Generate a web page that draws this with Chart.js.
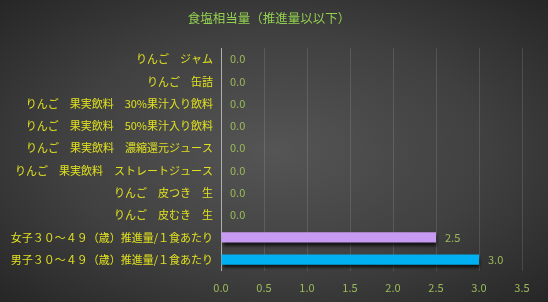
<!DOCTYPE html>
<html>
<head>
<meta charset="utf-8">
<script src="https://cdn.jsdelivr.net/npm/chart.js@4"></script>
<style>
  html, body { margin: 0; padding: 0; }
  body {
    width: 548px; height: 302px; overflow: hidden;
    background: radial-gradient(ellipse at 50% 50%, #555555 0%, #404040 55%, #262626 100%);
  }
  #wrap { position: relative; width: 548px; height: 302px; }
</style>
</head>
<body>
<div id="wrap"><canvas id="chart"></canvas></div>
<script>
// データ
const categories = [
    'りんご　ジャム',
    'りんご　缶詰',
    'りんご　果実飲料　30%果汁入り飲料',
    'りんご　果実飲料　50%果汁入り飲料',
    'りんご　果実飲料　濃縮還元ジュース',
    'りんご　果実飲料　ストレートジュース',
    'りんご　皮つき　生',
    'りんご　皮むき　生',
    '女子３０～４９（歳）推進量/１食あたり',
    '男子３０～４９（歳）推進量/１食あたり'
];
const saltValues = [0, 0, 0, 0, 0, 0, 0, 0, 2.5, 3.0];
const barColors = ['#c89bf2', '#c89bf2', '#c89bf2', '#c89bf2', '#c89bf2', '#c89bf2', '#c89bf2', '#c89bf2', '#c89bf2', '#00b0f0'];
const xTicks = [0, 0.5, 1, 1.5, 2, 2.5, 3, 3.5];
const chartTitle = '食塩相当量（推進量以以下）';

const FONT = '"Noto Sans CJK JP", "Noto Sans", sans-serif';
const GREEN = '#9bbb59';

// 棒の影
const shadowPlugin = {
    id: 'barShadow',
    beforeDatasetDraw(chart) {
        const ctx = chart.ctx;
        ctx.save();
        ctx.shadowColor = 'rgba(0,0,0,0.7)';
        ctx.shadowOffsetX = 1;
        ctx.shadowOffsetY = 3;
        ctx.shadowBlur = 3;
    },
    afterDatasetDraw(chart) {
        chart.ctx.restore();
    }
};

// タイトル（キャンバス全体の中央寄り）
const titlePlugin = {
    id: 'centerTitle',
    afterDraw(chart) {
        const ctx = chart.ctx;
        ctx.save();
        ctx.font = '12.5px ' + FONT;
        ctx.fillStyle = '#92d050';
        ctx.textAlign = 'center';
        ctx.textBaseline = 'middle';
        ctx.fillText(chartTitle, 269, 18);
        ctx.restore();
    }
};

// 値ラベル
const valueLabels = {
    id: 'valueLabels',
    afterDatasetsDraw(chart) {
        const ctx = chart.ctx;
        const meta = chart.getDatasetMeta(0);
        ctx.save();
        ctx.font = '11px ' + FONT;
        ctx.fillStyle = GREEN;
        ctx.textAlign = 'left';
        ctx.textBaseline = 'middle';
        meta.data.forEach((bar, i) => {
            ctx.fillText(saltValues[i].toFixed(1), bar.x + 9, bar.y);
        });
        ctx.restore();
    }
};

new Chart(document.getElementById('chart'), {
    type: 'bar',
    data: {
        labels: categories,
        datasets: [{
            data: saltValues,
            backgroundColor: barColors,
            borderWidth: 0,
            barPercentage: 0.46,
            categoryPercentage: 1.0
        }]
    },
    options: {
        indexAxis: 'y',
        responsive: true,
        maintainAspectRatio: false,
        animation: false,
        layout: { padding: { left: 0, right: 26, top: 48, bottom: -2 } },
        plugins: {
            legend: { display: false },
            tooltip: { enabled: false },
            title: { display: false }
        },
        scales: {
            x: {
                min: 0,
                max: 3.5,
                afterBuildTicks(scale) { scale.ticks = xTicks.map(v => ({ value: v })); },
                grid: { color: 'rgba(255,255,255,0.12)', drawTicks: false },
                border: { display: false },
                ticks: {
                    color: GREEN,
                    font: { family: FONT, size: 11 },
                    padding: 10,
                    callback: v => Number(v).toFixed(1)
                }
            },
            y: {
                afterFit(scale) { scale.width = 221; },
                grid: { display: false, drawTicks: false },
                border: { display: true, color: '#b0b0b0', width: 1 },
                ticks: {
                    color: '#e0e020',
                    font: { family: FONT, size: 11 },
                    padding: 8
                }
            }
        }
    },
    plugins: [shadowPlugin, valueLabels, titlePlugin]
});
</script>
</body>
</html>
